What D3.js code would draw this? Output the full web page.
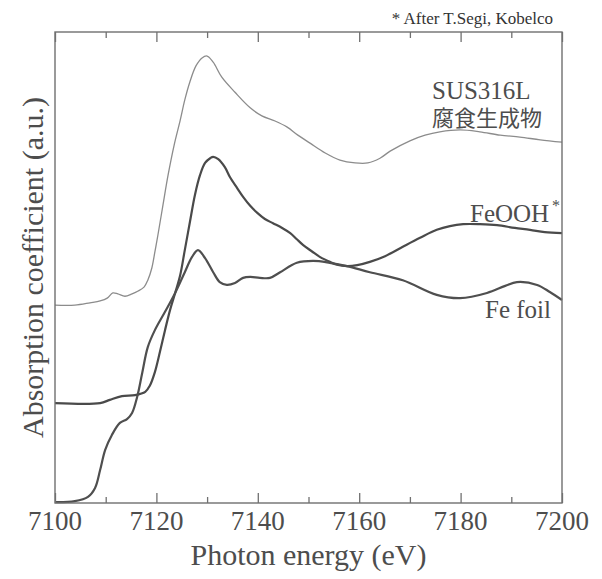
<!DOCTYPE html>
<html>
<head>
<meta charset="utf-8">
<script src="https://cdn.jsdelivr.net/npm/d3@7"></script>
<style>
  body { margin: 0; background: #fff; }
</style>
</head>
<body>
<svg id="chart" width="602" height="579"></svg>
<script>
// X ticks
const X_TICKS = [7100, 7120, 7140, 7160, 7180, 7200];
const X_MINOR = [7110, 7130, 7150, 7170, 7190];

// SUS316L corrosion product (arbitrary units, offset)
const SUS_E = [7100, 7103.9, 7106.9, 7108.9, 7110.3, 7111.4, 7112.4, 7113.8, 7115.2, 7116.4, 7117.6, 7118.3, 7119.1, 7119.7, 7120.3, 7121.3, 7122.3, 7123.5, 7124.7, 7125.6, 7126.6, 7127.8, 7129.0, 7130.0, 7131.2, 7132.9, 7135.5, 7138.5, 7140.8, 7143.4, 7145.8, 7147.9, 7150.3, 7153.3, 7156.2, 7159.2, 7161.7, 7164.1, 7166.1, 7170.0, 7173.0, 7175.9, 7179.9, 7183.8, 7187.8, 7191.7, 7195.7, 7200];
const SUS_V = [4.20, 4.20, 4.25, 4.29, 4.35, 4.46, 4.44, 4.39, 4.44, 4.50, 4.59, 4.73, 4.99, 5.33, 5.69, 6.33, 6.96, 7.60, 8.13, 8.56, 8.94, 9.28, 9.45, 9.49, 9.36, 9.04, 8.72, 8.39, 8.22, 8.11, 7.98, 7.81, 7.64, 7.43, 7.28, 7.22, 7.22, 7.32, 7.47, 7.69, 7.81, 7.88, 7.92, 7.88, 7.81, 7.77, 7.71, 7.66];

// FeOOH
const FEOOH_E = [7100, 7108.9, 7110.8, 7113.2, 7115.8, 7117.8, 7118.7, 7119.7, 7120.7, 7121.7, 7122.7, 7123.7, 7124.7, 7125.6, 7126.6, 7127.6, 7128.6, 7129.6, 7130.6, 7131.2, 7132.2, 7133.5, 7134.5, 7135.9, 7137.1, 7138.5, 7139.9, 7141.4, 7143.0, 7144.8, 7146.4, 7147.7, 7148.9, 7150.7, 7152.3, 7154.2, 7155.6, 7157.6, 7159.6, 7162.1, 7165.1, 7168.6, 7172.0, 7175.3, 7177.9, 7180.5, 7183.8, 7187.2, 7190.7, 7193.7, 7196.6, 7200];
const FEOOH_V = [2.12, 2.12, 2.19, 2.27, 2.29, 2.36, 2.49, 2.78, 3.21, 3.67, 4.10, 4.46, 4.84, 5.37, 5.96, 6.54, 6.96, 7.22, 7.32, 7.35, 7.30, 7.13, 6.92, 6.69, 6.50, 6.31, 6.16, 6.03, 5.94, 5.84, 5.73, 5.60, 5.48, 5.34, 5.22, 5.12, 5.06, 5.03, 5.05, 5.12, 5.24, 5.44, 5.63, 5.80, 5.88, 5.92, 5.92, 5.90, 5.84, 5.80, 5.75, 5.73];

// Fe foil
const FOIL_E = [7100, 7103.9, 7106.5, 7107.9, 7108.9, 7109.9, 7111.2, 7112.8, 7114.2, 7115.2, 7116.2, 7117.2, 7118.3, 7119.7, 7121.7, 7123.7, 7125.6, 7127.0, 7128.2, 7129.6, 7131.2, 7132.5, 7133.9, 7135.5, 7137.1, 7138.5, 7140.4, 7142.4, 7144.4, 7147.7, 7150.9, 7154.2, 7157.6, 7162.1, 7168.6, 7175.3, 7179.9, 7185.2, 7188.8, 7191.1, 7195.1, 7197.6, 7200];
const FOIL_V = [0.02, 0.04, 0.13, 0.32, 0.70, 1.13, 1.44, 1.70, 1.78, 1.91, 2.25, 2.76, 3.31, 3.67, 4.06, 4.46, 4.90, 5.22, 5.37, 5.20, 4.90, 4.69, 4.63, 4.67, 4.78, 4.80, 4.78, 4.78, 4.90, 5.10, 5.14, 5.10, 5.03, 4.90, 4.73, 4.42, 4.35, 4.46, 4.61, 4.69, 4.63, 4.48, 4.31];

const SERIES = [
  {name: 'sus', e: SUS_E, v: SUS_V, color: '#8c8c8c', width: 1.3},
  {name: 'feooh', e: FEOOH_E, v: FEOOH_V, color: '#4a4a4a', width: 2.2},
  {name: 'foil', e: FOIL_E, v: FOIL_V, color: '#4f4f4f', width: 2.2}
];

const SERIF = '"Liberation Serif", "Times New Roman", Times, serif';
const CJK = '"Noto Sans CJK JP", "Noto Sans CJK SC", sans-serif';
const TEXT_COLOR = '#4d4d4d';

const plot = {left: 55, right: 562, top: 32, bottom: 503};
const x = d3.scaleLinear([7100, 7200], [plot.left, plot.right]);
const y = d3.scaleLinear([0, 10], [plot.bottom, plot.top]);

const svg = d3.select('#chart');

const line = d3.line()
  .x(d => x(d[0]))
  .y(d => y(d[1]))
  .curve(d3.curveCatmullRom.alpha(0.5));

// curves
svg.selectAll('path.curve')
  .data(SERIES).enter()
  .append('path')
    .attr('class', 'curve')
    .attr('fill', 'none')
    .attr('stroke', d => d.color)
    .attr('stroke-width', d => d.width)
    .attr('stroke-linejoin', 'round')
    .attr('d', d => line(d.e.map((e, i) => [e, d.v[i]])));

// frame
svg.append('rect')
  .attr('x', plot.left).attr('y', plot.top)
  .attr('width', plot.right - plot.left).attr('height', plot.bottom - plot.top)
  .attr('fill', 'none')
  .attr('stroke', '#707070')
  .attr('stroke-width', 1.4);

// inward ticks on bottom and top edges
const tickStyle = g => g.call(g => g.select('.domain').remove())
  .call(g => g.selectAll('line').attr('stroke', '#707070').attr('stroke-width', 1.3));

svg.append('g')
  .attr('transform', `translate(0,${plot.bottom})`)
  .call(d3.axisTop(x).tickValues(X_TICKS).tickSize(10).tickFormat(''))
  .call(tickStyle);
svg.append('g')
  .attr('transform', `translate(0,${plot.bottom})`)
  .call(d3.axisTop(x).tickValues(X_MINOR).tickSize(6).tickFormat(''))
  .call(tickStyle);
svg.append('g')
  .attr('transform', `translate(0,${plot.top})`)
  .call(d3.axisBottom(x).tickValues(X_TICKS).tickSize(10).tickFormat(''))
  .call(tickStyle);
svg.append('g')
  .attr('transform', `translate(0,${plot.top})`)
  .call(d3.axisBottom(x).tickValues(X_MINOR).tickSize(6).tickFormat(''))
  .call(tickStyle);

const addText = (str, attrs) => {
  const t = svg.append('text')
    .attr('font-family', SERIF)
    .attr('fill', TEXT_COLOR)
    .text(str);
  Object.entries(attrs).forEach(([k, v]) => t.attr(k, v));
  return t;
};

// tick labels
svg.selectAll('text.tick-label')
  .data(X_TICKS).enter()
  .append('text')
    .attr('class', 'tick-label')
    .attr('font-family', SERIF)
    .attr('fill', TEXT_COLOR)
    .attr('x', d => x(d))
    .attr('y', 530)
    .attr('text-anchor', 'middle')
    .attr('font-size', 27)
    .text(d => d);

// axis titles
addText('Photon energy (eV)', {
  x: (plot.left + plot.right) / 2, y: 565, 'text-anchor': 'middle', 'font-size': 30
});
addText('Absorption coefficient (a.u.)', {
  transform: `translate(43,${(plot.top + plot.bottom) / 2}) rotate(-90)`,
  'text-anchor': 'middle', 'font-size': 30
});

// note
addText('* After T.Segi, Kobelco', {
  x: 553, y: 24, 'text-anchor': 'end', 'font-size': 17, fill: '#333'
});

// series labels (SUS316L label is two lines in one text block)
const susLabel = svg.append('text')
  .attr('font-family', SERIF)
  .attr('fill', TEXT_COLOR)
  .attr('x', 432).attr('y', 99);
susLabel.append('tspan')
  .attr('font-size', 25)
  .text('SUS316L');
susLabel.append('tspan')
  .attr('x', 432).attr('dy', 27)
  .attr('font-size', 22)
  .attr('font-family', CJK)
  .text('腐食生成物');

addText('FeOOH', {x: 470, y: 222, 'font-size': 25});
addText('*', {x: 552, y: 211, 'font-size': 16});
addText('Fe foil', {x: 485, y: 318, 'font-size': 25});
</script>
</body>
</html>
